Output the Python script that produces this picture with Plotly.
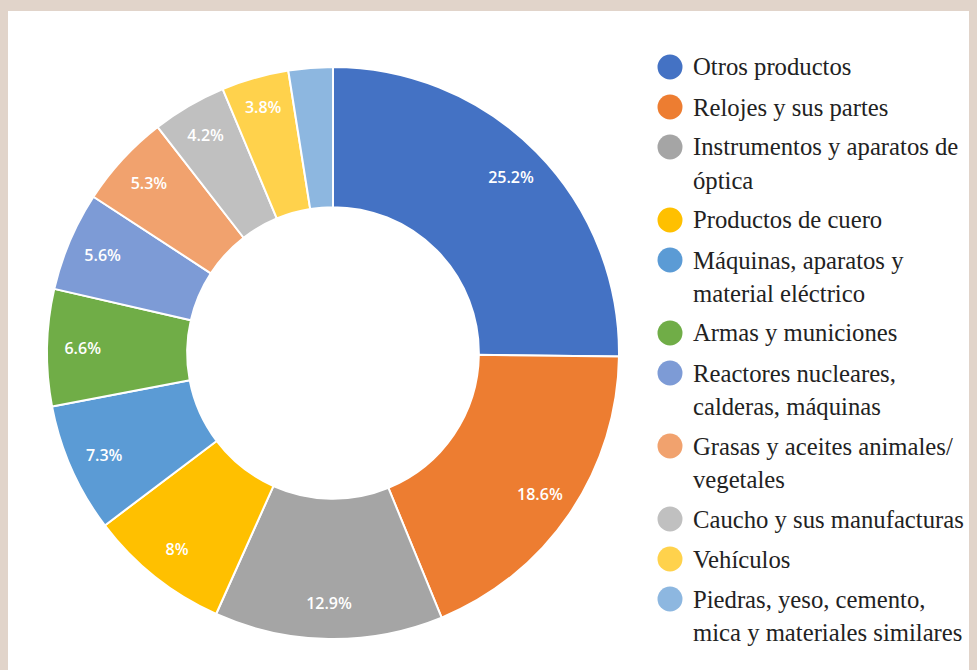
import plotly.graph_objects as go

# data
categorias = [
    "Otros productos",
    "Relojes y sus partes",
    "Instrumentos y aparatos de\nóptica",
    "Productos de cuero",
    "Máquinas, aparatos y\nmaterial eléctrico",
    "Armas y municiones",
    "Reactores nucleares,\ncalderas, máquinas",
    "Grasas y aceites animales/\nvegetales",
    "Caucho y sus manufacturas",
    "Vehículos",
    "Piedras, yeso, cemento,\nmica y materiales similares",
]
porcentajes = [25.2, 18.6, 12.9, 8.0, 7.3, 6.6, 5.6, 5.3, 4.2, 3.8, 2.5]
etiquetas = ["25.2%", "18.6%", "12.9%", "8%", "7.3%", "6.6%", "5.6%", "5.3%", "4.2%", "3.8%", ""]
colores = ["#4472C4", "#ED7D31", "#A5A5A5", "#FFC000", "#5B9BD5", "#70AD47",
           "#7D9BD6", "#F1A26E", "#C0C0C0", "#FFD24C", "#8DB7E0"]

W, H = 977, 670
OFF = 8  # page offset of the plot div (default body margin)
BEIGE = "#E1D4CA"


def px(x):
    return (x - OFF) / W


def py(y):
    return 1 - (y - OFF) / H


dom = dict(x=[px(47), px(619)], y=[py(639), py(67)])

fig = go.Figure()
# donut
fig.add_trace(go.Pie(
    labels=[c.replace("\n", " ") for c in categorias],
    values=porcentajes,
    textinfo="none",
    marker=dict(colors=colores, line=dict(color="white", width=2)),
    hole=0.51,
    sort=False,
    direction="clockwise",
    showlegend=False,
    domain=dom,
))
# percentage labels placed on the outer part of the ring
fig.add_trace(go.Pie(
    labels=[c.replace("\n", " ") for c in categorias],
    values=porcentajes,
    text=etiquetas,
    textinfo="text",
    textposition="inside",
    insidetextorientation="horizontal",
    textfont=dict(family="Open Sans", size=16, color="white", weight=600),
    marker=dict(colors=["rgba(0,0,0,0)"] * len(porcentajes), line=dict(width=0)),
    hole=0.75,
    sort=False,
    direction="clockwise",
    showlegend=False,
    hoverinfo="skip",
    domain=dom,
))

# white panel over beige frame
shapes = [dict(type="rect", xref="paper", yref="paper", x0=px(7), x1=1.02, y0=-0.02, y1=py(11),
               fillcolor="white", line=dict(width=0), layer="below")]
annotations = []

# legend with round markers
y = 67
for cat, col in zip(categorias, colores):
    shapes.append(dict(type="circle", xref="paper", yref="paper",
                       xsizemode="pixel", ysizemode="pixel",
                       xanchor=px(670), yanchor=py(y),
                       x0=-12.5, x1=12.5, y0=-12.5, y1=12.5,
                       fillcolor=col, line=dict(width=0)))
    lines = cat.split("\n")
    for i, ln in enumerate(lines):
        annotations.append(dict(text=ln, xref="paper", yref="paper",
                                x=px(691), y=py(y + 33 * i),
                                xanchor="left", yanchor="middle", showarrow=False,
                                font=dict(family="Liberation Serif", size=24.7, color="#222222")))
    y += 33 * (len(lines) - 1) + 40

fig.update_layout(
    width=W, height=H,
    margin=dict(l=0, r=0, t=0, b=0),
    paper_bgcolor=BEIGE,
    shapes=shapes,
    annotations=annotations,
    uniformtext=dict(minsize=16, mode="show"),
)

fig.write_html("out.html", post_script=f"document.body.style.background='{BEIGE}';")
